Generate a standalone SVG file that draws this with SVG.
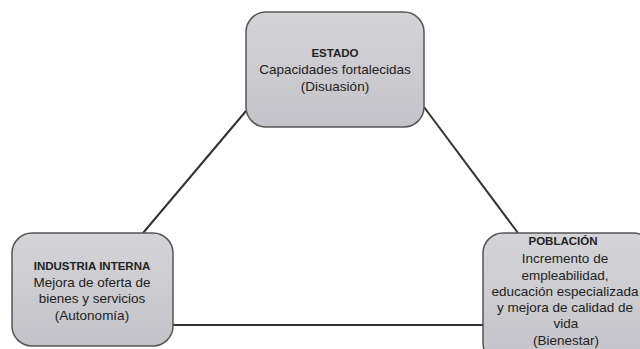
<svg xmlns="http://www.w3.org/2000/svg" width="640" height="349" viewBox="0 0 640 349">
<defs>
<linearGradient id="g" x1="0" y1="0" x2="0" y2="1">
<stop offset="0" stop-color="#d4d4d8"/>
<stop offset="1" stop-color="#c3c3c9"/>
</linearGradient>
</defs>
<style>
.box{fill:url(#g);stroke:#555;stroke-width:1.5}
.t{font-family:"Liberation Sans",Arial,sans-serif;font-size:13.5px;fill:#222;text-anchor:middle}
.b{font-weight:bold;font-size:11.5px}
.c{stroke:#333;stroke-width:2;fill:none}
</style>
<rect width="640" height="349" fill="#fff"/>
<g id="connectors">
<line class="c" x1="143" y1="233" x2="246" y2="111"/>
<line class="c" x1="424" y1="107" x2="518" y2="233"/>
<line class="c" x1="173" y1="325" x2="483" y2="325"/>
</g>
<g id="estado">
<rect class="box" x="246" y="12" width="178" height="115" rx="20"/>
<text class="t b" x="335" y="57">ESTADO</text>
<text class="t" x="335" y="74">Capacidades fortalecidas</text>
<text class="t" x="335" y="91">(Disuasión)</text>
</g>
<g id="industria">
<rect class="box" x="12" y="233" width="161" height="113" rx="20"/>
<text class="t b" x="92" y="270">INDUSTRIA INTERNA</text>
<text class="t" x="92" y="287">Mejora de oferta de</text>
<text class="t" x="92" y="303">bienes y servicios</text>
<text class="t" x="92" y="320">(Autonomía)</text>
</g>
<g id="poblacion">
<rect class="box" x="483" y="233" width="170" height="130" rx="20"/>
<text class="t b" x="563" y="245">POBLACIÓN</text>
<text class="t" x="565" y="263">Incremento de</text>
<text class="t" x="565" y="280">empleabilidad,</text>
<text class="t" x="565" y="296">educación especializada</text>
<text class="t" x="565" y="312">y mejora de calidad de</text>
<text class="t" x="566" y="328">vida</text>
<text class="t" x="566" y="345">(Bienestar)</text>
</g>
</svg>
